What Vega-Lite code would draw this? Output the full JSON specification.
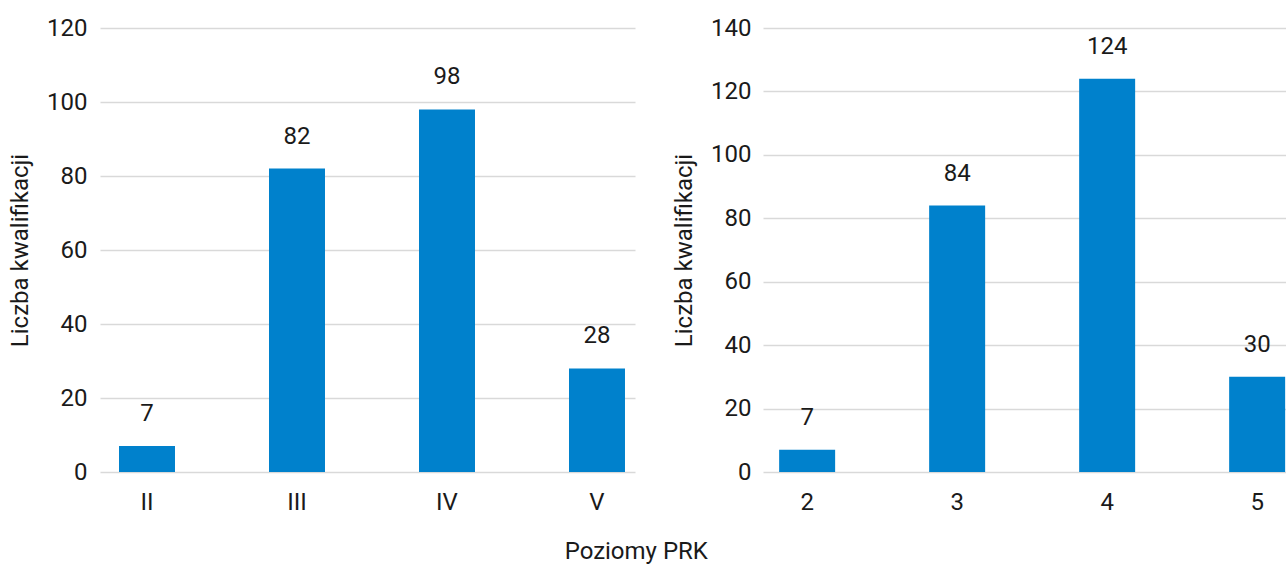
{
  "$schema": "https://vega.github.io/schema/vega-lite/v6.json",
  "padding": {"left": 8, "top": 16, "right": 0, "bottom": 0},
  "config": {
    "font": "Roboto",
    "view": {"stroke": null},
    "axis": {
      "labelFont": "Roboto",
      "titleFont": "Roboto",
      "labelFontSize": 24,
      "titleFontSize": 24,
      "titleFontWeight": "normal",
      "labelColor": "#1a1a1a",
      "titleColor": "#1a1a1a",
      "ticks": false,
      "domain": false,
      "gridColor": "#d9d9d9",
      "gridWidth": 1.5
    },
    "concat": {"spacing": 37}
  },
  "title": {
    "text": "Poziomy PRK",
    "orient": "bottom",
    "anchor": "middle",
    "fontSize": 24,
    "fontWeight": "normal",
    "font": "Roboto",
    "color": "#1a1a1a",
    "offset": 26,
    "dx": -12
  },
  "datasets": {
    "rzym": [
      {"poziom": "II", "liczba": 7},
      {"poziom": "III", "liczba": 82},
      {"poziom": "IV", "liczba": 98},
      {"poziom": "V", "liczba": 28}
    ],
    "arab": [
      {"poziom": "2", "liczba": 7},
      {"poziom": "3", "liczba": 84},
      {"poziom": "4", "liczba": 124},
      {"poziom": "5", "liczba": 30}
    ]
  },
  "hconcat": [
    {
      "width": 535,
      "height": 444,
      "data": {"name": "rzym"},
      "encoding": {
        "x": {
          "field": "poziom",
          "type": "nominal",
          "sort": null,
          "scale": {"paddingInner": 0.6267, "paddingOuter": 0.0967, "align": 0.655},
          "axis": {"title": null, "labelAngle": 0, "labelPadding": 18, "grid": false}
        },
        "y": {
          "field": "liczba",
          "type": "quantitative",
          "scale": {"domain": [0, 120]},
          "axis": {
            "title": "Liczba kwalifikacji",
            "values": [0, 20, 40, 60, 80, 100, 120],
            "labelPadding": 13,
            "titlePadding": 14,
            "grid": true
          }
        }
      },
      "layer": [
        {"mark": {"type": "bar", "color": "#0081cc"}},
        {
          "mark": {"type": "text", "baseline": "middle", "dy": -32, "fontSize": 24, "font": "Roboto", "color": "#1a1a1a"},
          "encoding": {"text": {"field": "liczba", "type": "quantitative"}}
        }
      ]
    },
    {
      "width": 525,
      "height": 444,
      "data": {"name": "arab"},
      "encoding": {
        "x": {
          "field": "poziom",
          "type": "nominal",
          "sort": null,
          "scale": {"paddingInner": 0.6267, "paddingOuter": 0.0633, "align": 0.85},
          "axis": {"title": null, "labelAngle": 0, "labelPadding": 18, "grid": false}
        },
        "y": {
          "field": "liczba",
          "type": "quantitative",
          "scale": {"domain": [0, 140]},
          "axis": {
            "title": "Liczba kwalifikacji",
            "values": [0, 20, 40, 60, 80, 100, 120, 140],
            "labelPadding": 12,
            "titlePadding": 14,
            "grid": true
          }
        }
      },
      "layer": [
        {"mark": {"type": "bar", "color": "#0081cc"}},
        {
          "mark": {"type": "text", "baseline": "middle", "dy": -32, "fontSize": 24, "font": "Roboto", "color": "#1a1a1a"},
          "encoding": {"text": {"field": "liczba", "type": "quantitative"}}
        }
      ]
    }
  ]
}
